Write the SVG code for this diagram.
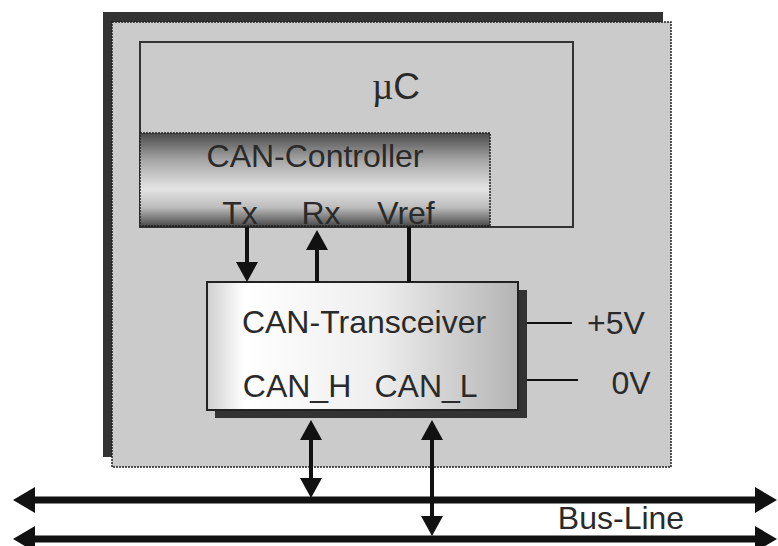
<svg xmlns="http://www.w3.org/2000/svg" width="778" height="546" viewBox="0 0 778 546">
  <defs>
    <style>
      .t { font-family: "Liberation Sans", Arial, sans-serif; font-size: 32px; fill: #2a2a2a; }
      .big { font-size: 37px; }
      .wire { stroke: #111; stroke-width: 4; fill: none; }
      .bus { stroke: #111; stroke-width: 7; fill: none; }
      .thin { stroke: #111; stroke-width: 2; fill: none; }
    </style>
    <linearGradient id="gCtrl" x1="0" y1="0" x2="0" y2="1">
      <stop offset="0" stop-color="#4a4a4a"/>
      <stop offset="0.3" stop-color="#a8a8a8"/>
      <stop offset="0.6" stop-color="#e4e4e4"/>
      <stop offset="0.8" stop-color="#bcbcbc"/>
      <stop offset="1" stop-color="#4a4a4a"/>
    </linearGradient>
    <linearGradient id="gTrx" x1="0" y1="0" x2="1" y2="0">
      <stop offset="0" stop-color="#cfcfcf"/>
      <stop offset="0.12" stop-color="#ffffff"/>
      <stop offset="0.55" stop-color="#eeeeee"/>
      <stop offset="1" stop-color="#b4b4b4"/>
    </linearGradient>
    <marker id="busHead" markerUnits="userSpaceOnUse" markerWidth="24" markerHeight="26" refX="0" refY="13" orient="auto-start-reverse">
      <path d="M0,0 L22,13 L0,26 z" fill="#111"/>
    </marker>
    <marker id="sigHead" markerUnits="userSpaceOnUse" markerWidth="22" markerHeight="24" refX="0" refY="11" orient="auto-start-reverse">
      <path d="M0,0 L20,11 L0,22 z" fill="#111"/>
    </marker>
  </defs>

  <g id="board">
    <rect x="103" y="12" width="560" height="445" fill="#333"/>
    <rect x="112" y="22" width="559" height="445" fill="#cbcbcb" stroke="#222" stroke-width="1.5" stroke-dasharray="2,1"/>
  </g>

  <g id="uC">
    <rect x="140" y="42" width="433" height="185" fill="#cbcbcb" stroke="#333" stroke-width="2"/>
    <text x="396" y="99" text-anchor="middle" class="t big"><tspan style="font-family: 'Liberation Serif', serif">µ</tspan>C</text>
  </g>

  <g id="can-controller">
    <rect x="140" y="133" width="350" height="93" fill="url(#gCtrl)" stroke="#222" stroke-width="1.5" stroke-dasharray="2,1"/>
    <text x="315" y="167" text-anchor="middle" class="t">CAN-Controller</text>
    <text x="240" y="224" text-anchor="middle" class="t">Tx</text>
    <text x="321" y="224" text-anchor="middle" class="t">Rx</text>
    <text x="406" y="224" text-anchor="middle" class="t">Vref</text>
  </g>

  <g id="can-transceiver">
    <rect x="215" y="290" width="312" height="128" fill="#333"/>
    <rect x="207" y="282" width="311" height="128" fill="url(#gTrx)" stroke="#222" stroke-width="2"/>
    <text x="364" y="333" text-anchor="middle" class="t">CAN-Transceiver</text>
    <text x="297" y="397" text-anchor="middle" class="t">CAN_H</text>
    <text x="426" y="397" text-anchor="middle" class="t">CAN_L</text>
  </g>

  <g id="supply">
    <text x="616" y="334" text-anchor="middle" class="t">+5V</text>
    <text x="631" y="394" text-anchor="middle" class="t">0V</text>
  </g>

  <g id="bus-label">
    <text x="621" y="529" text-anchor="middle" class="t">Bus-Line</text>
  </g>

  <g id="connectors">
    <line class="wire" x1="247" y1="227" x2="247" y2="262" marker-end="url(#sigHead)"/>
    <line class="wire" x1="317" y1="282" x2="317" y2="250" marker-end="url(#sigHead)"/>
    <line class="wire" x1="409" y1="227" x2="409" y2="282"/>
    <line class="thin" x1="527" y1="323" x2="572" y2="323"/>
    <line class="thin" x1="527" y1="380" x2="578" y2="380"/>
    <line class="wire" x1="311" y1="440" x2="311" y2="478" marker-start="url(#sigHead)" marker-end="url(#sigHead)"/>
    <line class="wire" x1="432" y1="440" x2="432" y2="516" marker-start="url(#sigHead)" marker-end="url(#sigHead)"/>
    <line class="bus" x1="35" y1="500" x2="755" y2="500" marker-start="url(#busHead)" marker-end="url(#busHead)"/>
    <line class="bus" x1="35" y1="539" x2="755" y2="539" marker-start="url(#busHead)" marker-end="url(#busHead)"/>
  </g>
</svg>
